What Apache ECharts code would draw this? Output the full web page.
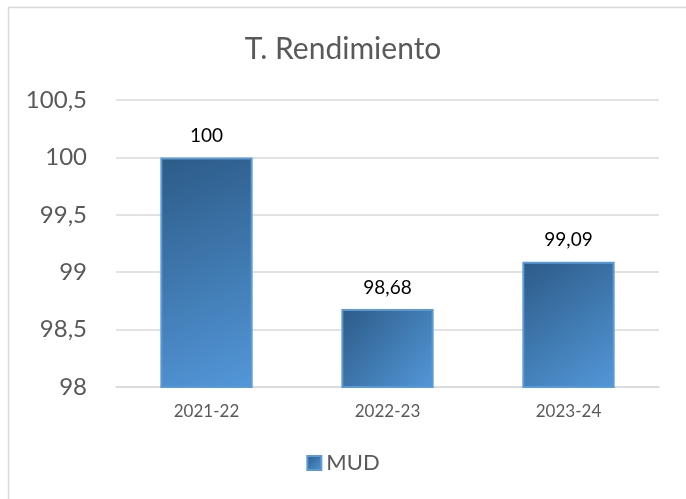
<!DOCTYPE html>
<html><head><meta charset="utf-8">
<script src="https://cdn.jsdelivr.net/npm/echarts@6/dist/echarts.min.js"></script>
<style>html,body{margin:0;padding:0;background:#fff}#c{width:686px;height:499px}</style>
</head><body><div id="c"></div>
<script>
const categories = ['2021-22', '2022-23', '2023-24'];
const values = [100, 98.68, 99.09];
const seriesName = 'MUD';
const yTicks = {min: 98, max: 100.5, interval: 0.5};

const chart = echarts.init(document.getElementById('c'));
const fmt = v => String(v).replace('.', ',');
chart.setOption({
  animation: false,
  backgroundColor: '#fff',
  textStyle: {fontFamily: 'Lato'},
  graphic: [{type: 'rect', shape: {x: 8.5, y: 7.5, width: 720, height: 520},
    style: {fill: 'none', stroke: '#d9d9d9', lineWidth: 1.5}, silent: true}],
  title: {text: 'T. Rendimiento', left: 'center', top: 29,
    textStyle: {fontFamily: 'Lato', fontSize: 30, fontWeight: 'normal', color: '#595959'}},
  legend: {bottom: 20, left: 'center', itemWidth: 14, itemHeight: 14, itemGap: 6,
    textStyle: {fontFamily: 'Lato', fontSize: 22, color: '#595959'},
    data: [{name: seriesName, icon: 'rect'}]},
  grid: {left: 116, right: 27, top: 100, bottom: 112},
  xAxis: {type: 'category', data: categories,
    axisLine: {lineStyle: {color: '#d9d9d9', width: 1.5}}, axisTick: {show: false},
    axisLabel: {fontFamily: 'Lato', fontSize: 17, color: '#595959', margin: 16}},
  yAxis: {type: 'value', min: yTicks.min, max: yTicks.max, interval: yTicks.interval,
    axisLine: {show: false}, axisTick: {show: false},
    splitLine: {lineStyle: {color: '#d9d9d9', width: 1.5}},
    axisLabel: {fontFamily: 'Lato', fontSize: 24, color: '#595959', margin: 29, formatter: fmt}},
  series: [{name: seriesName, type: 'bar', data: values, barWidth: '51%',
    itemStyle: {
      color: new echarts.graphic.LinearGradient(0, 0, 1, 1, [
        {offset: 0, color: '#2c5b87'}, {offset: 1, color: '#5397d9'}]),
      borderColor: '#5b9bd5', borderWidth: 2},
    label: {show: true, position: 'top', distance: 12, fontFamily: 'Lato', fontSize: 19,
      color: '#000', formatter: p => fmt(p.value)}}]
});
</script></body></html>
